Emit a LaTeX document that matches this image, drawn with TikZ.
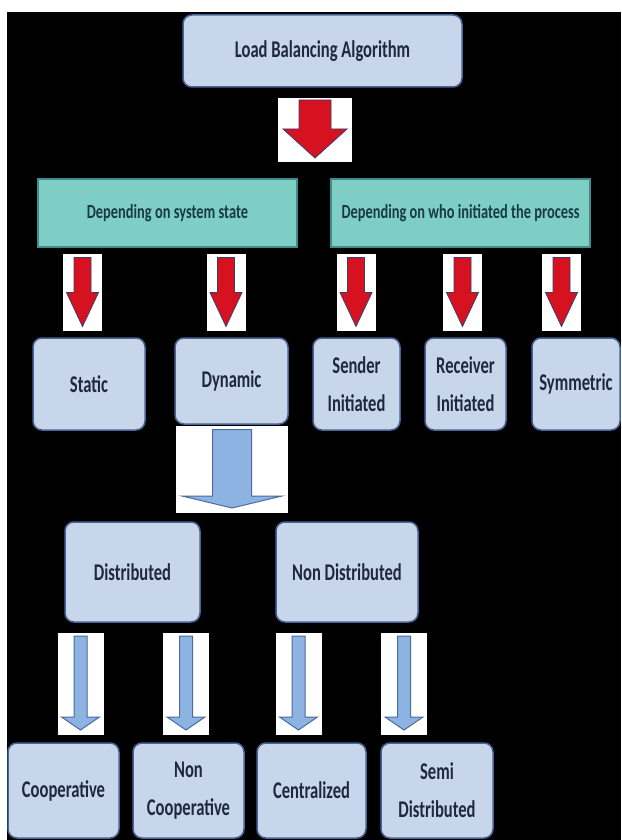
\documentclass[tikz,border=0pt]{standalone}
\usepackage{fontspec}
\setmainfont{Carlito}
\newfontfamily\boxfont[FakeStretch=0.69]{Carlito}
\newfontfamily\tealfont[FakeStretch=0.72]{Carlito}

\definecolor{boxfill}{RGB}{200,214,236}
\definecolor{boxedge}{RGB}{72,100,148}
\definecolor{boxtext}{RGB}{30,40,62}
\definecolor{tealfill}{RGB}{126,206,198}
\definecolor{tealedge}{RGB}{62,140,142}
\definecolor{tealtext}{RGB}{24,58,68}
\definecolor{arrowred}{RGB}{214,18,32}
\definecolor{arrowedge}{RGB}{58,62,108}
\definecolor{arrowblue}{RGB}{141,179,226}
\definecolor{blueedge}{RGB}{76,108,158}

\tikzset{
  bluebox/.style={draw=boxedge, fill=boxfill, line width=1.5pt, rounded corners=9pt,
    text=boxtext, align=center, inner sep=0pt,
    font=\boxfont\bfseries\fontsize{24}{38}\selectfont},
  tealbox/.style={draw=tealedge, fill=tealfill, line width=1.5pt,
    text=tealtext, align=center, inner sep=0pt,
    font=\tealfont\bfseries\fontsize{20}{26}\selectfont},
  gap/.style={fill=white, inner sep=0pt},
  redarrow/.style={fill=arrowred, draw=arrowedge, line width=0.8pt},
  bluearrow/.style={fill=arrowblue, draw=blueedge, line width=1pt}
}

\begin{document}
\begin{tikzpicture}[x=1pt,y=-1pt]
\useasboundingbox (0,0) rectangle (621,840);
\fill[white] (0,0) rectangle (621,840);
\fill[black] (7,12) rectangle (621,840);

% top level
\node[bluebox, minimum width=279pt, minimum height=72pt] (lba) at (322.5,51) {Load Balancing Algorithm};
\node[gap, minimum width=74pt, minimum height=64pt] (g0) at (315,130) {};
\draw[redarrow, shift={(g0)}] (-16,-30) -- (16,-30) -- (16,-1) -- (32,-1) -- (0,28) -- (-32,-1) -- (-16,-1) -- cycle;

\node[tealbox, minimum width=259pt, minimum height=68pt] (state) at (167.5,213) {Depending on system state};
\node[tealbox, minimum width=259pt, minimum height=68pt] (who) at (460.5,213) {Depending on who initiated the process};

% red arrows
\foreach \n/\x in {gst/82.5, gdy/226, gse/356, gre/462.5, gsy/561.5}{
  \node[gap, minimum width=39pt, minimum height=77pt] (\n) at (\x,292.5) {};
  \draw[redarrow, shift={(\n)}] (-8.5,-35) -- (8.5,-35) -- (8.5,0) -- (16,0) -- (0,34) -- (-16,0) -- (-8.5,0) -- cycle;
}

\node[bluebox, minimum width=112pt, minimum height=92pt] (static) at (89,384) {Static};
\node[bluebox, minimum width=113pt, minimum height=86pt] (dynamic) at (231.5,381) {Dynamic};
\node[bluebox, minimum width=87pt, minimum height=92pt] (sender) at (356.5,384) {Sender\\Initiated};
\node[bluebox, minimum width=81pt, minimum height=92pt] (receiver) at (465.5,384) {Receiver\\Initiated};
\node[bluebox, minimum width=88pt, minimum height=92pt] (symm) at (576,384) {Symmetric};

% dynamic branch
\node[gap, minimum width=112pt, minimum height=87pt] (gdyn) at (232,469.5) {};
\draw[bluearrow, shift={(gdyn)}] (-19.5,-40) -- (19.5,-40) -- (19.5,26.5) -- (50,26.5) -- (0,38.5) -- (-50,26.5) -- (-19.5,26.5) -- cycle;

\node[bluebox, minimum width=135pt, minimum height=100pt] (dist) at (132.5,572) {Distributed};
\node[bluebox, minimum width=142pt, minimum height=100pt] (nondist) at (347,572) {Non Distributed};

\foreach \n/\x in {gco/80.5, gnc/186, gce/298.5, gsd/404}{
  \node[gap, minimum width=46pt, minimum height=102pt] (\n) at (\x,684) {};
  \draw[bluearrow, shift={(\n)}] (-6.5,-48) -- (6.5,-48) -- (6.5,33) -- (19,33) -- (0,46) -- (-19,33) -- (-6.5,33) -- cycle;
}

\node[bluebox, minimum width=111pt, minimum height=95pt] (coop) at (63.5,790.5) {Cooperative};
\node[bluebox, minimum width=111pt, minimum height=95pt] (noncoop) at (188.5,790.5) {Non\\Cooperative};
\node[bluebox, minimum width=109pt, minimum height=95pt] (central) at (311.5,790.5) {Centralized};
\node[bluebox, minimum width=112pt, minimum height=95pt] (semi) at (437,790.5) {Semi\\Distributed};
\end{tikzpicture}
\end{document}
